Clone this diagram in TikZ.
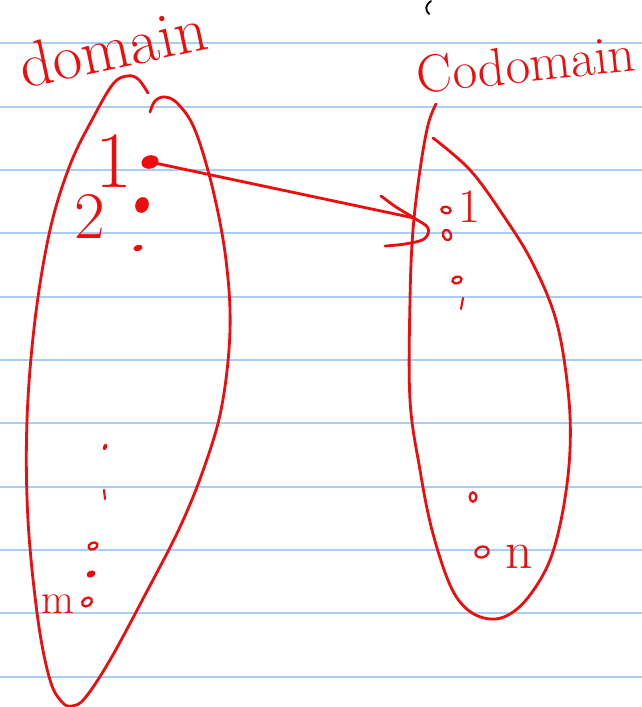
\documentclass[tikz,border=0pt]{standalone}
\usetikzlibrary{shapes.geometric}
\definecolor{ink}{RGB}{238,12,12}
\definecolor{ruled}{RGB}{168,206,246}
\begin{document}
\begin{tikzpicture}[x=0.75pt,y=-0.75pt,
  pen/.style={ink,line width=2.1pt,line cap=round,line join=round},
  blob/.style={ellipse,fill=ink,inner sep=0pt},
  ring/.style={ellipse,draw=ink,line width=1.7pt,inner sep=0pt},
  hand/.style={text=ink,inner sep=0pt}]
% paper and ruling
\fill[white] (0,0) rectangle (642,707);
\useasboundingbox (0,0) rectangle (642,707);
\foreach \k in {0,...,10}
  \draw[ruled,line width=1.5pt] (0,43.3+63.34*\k) -- (642,43.3+63.34*\k);
% small black pen mark at the top
\draw[black,line width=1.4pt,line cap=round] (431,1) .. controls (425,5) and (425,10) .. (429,14);

% headings
\node[hand,rotate=12,font=\fontsize{48}{50}\selectfont] (dom) at (113,47) {domain};
\node[hand,rotate=6,font=\fontsize{40}{42}\selectfont] (cod) at (526,64) {Codomain};

% domain outline
\draw[pen] plot[smooth,tension=0.6] coordinates {
  (148,93) (138,79) (127,76) (113,84) (93,118) (70,165) (50,230) (35,320)
  (27,420) (28,520) (38,620) (50,680) (62,702) (72,706) (85,698) (110,660)
  (145,595) (180,527) (205,465) (222,405) (230,330) (226,260) (213,190)
  (195,130) (178,104) (165,97) (155,101) (150,112)};

% codomain outline
\draw[pen] plot[smooth,tension=0.6] coordinates {
  (436,104) (428,125) (420,170) (413,230) (410,300) (410,400) (420,470)
  (432,530) (450,585) (468,610) (490,619) (510,614) (530,595) (550,560)
  (563,510) (570,450) (568,390) (556,320) (532,262) (503,215) (470,170)
  (433,138)};

% domain elements
\node[blob,minimum width=13pt,minimum height=10pt,rotate=15] (d1) at (150,162) {};
\node[blob,minimum width=10pt,minimum height=12pt,rotate=-20] (d2) at (142,205) {};
\node[blob,minimum width=7pt,minimum height=4.5pt,rotate=15] (d3) at (138,248) {};
\node[blob,minimum width=3pt,minimum height=5pt,rotate=-20] (dv1) at (105,447) {};
\draw[pen,line width=1.6pt] (104,490) -- (105,499);
\node[ring,minimum width=7pt,minimum height=5pt,rotate=25] (dm2) at (93,546) {};
\node[blob,minimum width=7pt,minimum height=5pt,rotate=25] (dm1) at (91,574) {};
\node[ring,minimum width=8pt,minimum height=6pt,rotate=35] (dm) at (87,602) {};
\node[hand,font=\fontsize{60}{60}\selectfont,anchor=base] (l1) at (114,187) {1};
\node[hand,font=\fontsize{50}{50}\selectfont,anchor=base] (l2) at (90,238) {2};
\node[hand,font=\fontsize{32}{32}\selectfont,anchor=base] (lm) at (58,613) {m};

% codomain elements
\node[ring,minimum width=7pt,minimum height=5pt,rotate=-10] (c1) at (446,210) {};
\node[ring,minimum width=6pt,minimum height=8pt,rotate=20] (c2) at (447,235) {};
\node[ring,minimum width=7pt,minimum height=5pt,rotate=15] (c3) at (457,280) {};
\draw[pen,line width=1.6pt] (463,298) -- (461,309);
\node[ring,minimum width=5pt,minimum height=7pt] (cv) at (473,497) {};
\node[ring,minimum width=10pt,minimum height=8pt,rotate=20] (cn) at (482,552) {};
\node[hand,font=\fontsize{36}{36}\selectfont,anchor=base] (r1) at (470,222) {1};
\node[hand,font=\fontsize{40}{40}\selectfont,anchor=base] (rn) at (519,568) {n};

% the mapping arrow with its hand-drawn head
\coordinate (tip) at (414,218);
\draw[pen] (d1.center) -- (tip);
\draw[pen] plot[smooth,tension=0.6] coordinates {
  (381,196) (396,207) (414,218) (428,228) (424,239) (405,244) (385,246)};
\end{tikzpicture}
\end{document}
